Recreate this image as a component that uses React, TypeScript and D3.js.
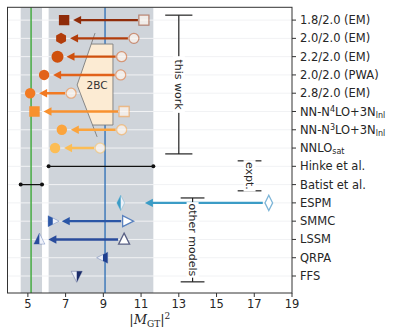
import React from 'react'
import * as d3 from 'd3'

// rows top to bottom (label markup: ^{} superscript, _{} subscript)
const rowLabels = [
  '1.8/2.0 (EM)',
  '2.0/2.0 (EM)',
  '2.2/2.0 (EM)',
  '2.0/2.0 (PWA)',
  '2.8/2.0 (EM)',
  'NN-N^{4}LO+3N_{lnl}',
  'NN-N^{3}LO+3N_{lnl}',
  'NNLO_{sat}',
  'Hinke et al.',
  'Batist et al.',
  'ESPM',
  'SMMC',
  'LSSM',
  'QRPA',
  'FFS',
]

// this work: bare (open) -> with 2BC (filled)
const workBare = [11.15, 10.62, 9.97, 9.92, 7.29, 10.1, 9.97, 8.83]
const workFull = [6.92, 6.76, 6.57, 5.86, 5.12, 5.35, 6.8, 6.44]
const workMarker = ['square', 'hexagon', 'circle', 'circle', 'circle', 'square', 'circle', 'circle']
const workColor = ['#8f2c0a', '#b23d0b', '#cf500d', '#e2621a', '#f27a22', '#f8912e', '#fba43d', '#fcbd55']

// experiments: [low, central, high]
const hinke = [6.1, 9.09, 11.65]
const batist = [4.62, 5.17, 5.75]

// other models: row, filled value, open value (or null), shape, half filled side
const modelRow = [10, 11, 12, 13, 14]
const modelFull = [9.92, 6.32, 5.61, 8.98, 7.59]
const modelOpen = [17.77, 10.27, 10.1, null, null]
const modelTip = [11.2, null, null, null, null]
const modelShape = ['diamond', 'triRight', 'triUp', 'triLeft', 'triDown']
const modelHalf = ['left', 'left', 'left', 'right', 'right']
const modelColor = ['#3b9cc6', '#2b56a6', '#2a4c9c', '#1f3f8f', '#1b2c6a']
const modelOpenColor = ['#7fb6d8', '#5a82bf', '#5a6185', null, null]

// 2BC band outline: [x, row]
const bandLine = [[8.56, 0.71], [7.61, 3.55], [8.67, 6.39]]
const bandRows = [1.31, 5.74]
const bandRight = 9.51

// brackets: label, x, row from, row to, half cap width (x units)
const brackets = [
  { label: 'this work', x: 13.0, r0: -0.27, r1: 7.32, cap: 0.72 },
  { label: 'expt.', x: 16.75, r0: 7.7, r1: 9.34, cap: 0.63 },
  { label: 'other models', x: 13.73, r0: 9.73, r1: 14.32, cap: 0.63 },
]

const xTicks = [5, 7, 9, 11, 13, 15, 17, 19]

const W = 394
const H = 333
const FONT = 'DejaVu Sans, sans-serif'

function markerPath(shape: string, s: number): string {
  switch (shape) {
    case 'square':
      return `M${-s},${-s}H${s}V${s}H${-s}Z`
    case 'hexagon': {
      const pts = d3.range(6).map(i => {
        const a = Math.PI / 6 + (i * Math.PI) / 3
        return [s * 1.1 * Math.cos(a), s * 1.1 * Math.sin(a)]
      })
      return 'M' + pts.map(p => p.join(',')).join('L') + 'Z'
    }
    case 'circle':
      return `M${s},0A${s},${s} 0 1,1 ${-s},0A${s},${s} 0 1,1 ${s},0Z`
    case 'diamond':
      return `M0,${-s * 1.4}L${s * 0.7},0L0,${s * 1.4}L${-s * 0.7},0Z`
    case 'triUp':
      return `M0,${-s * 1.15}L${s},${s * 0.85}L${-s},${s * 0.85}Z`
    case 'triDown':
      return `M0,${s * 1.15}L${s},${-s * 0.85}L${-s},${-s * 0.85}Z`
    case 'triRight':
      return `M${s * 1.15},0L${-s * 0.85},${s}L${-s * 0.85},${-s}Z`
    case 'triLeft':
      return `M${-s * 1.15},0L${s * 0.85},${s}L${s * 0.85},${-s}Z`
  }
  return ''
}

function RichLabel({ x, y, text }: { x: number; y: number; text: string }) {
  const parts = text.split(/(\^\{[^}]*\}|_\{[^}]*\})/).filter(p => p.length)
  return (
    <text x={x} y={y} dy="0.35em" fontSize={11.5} fontFamily={FONT} fill="#262626">
      {parts.map((p, i) => {
        if (p.startsWith('^{')) {
          return <tspan key={i} fontSize={8} baselineShift="45%">{p.slice(2, -1)}</tspan>
        }
        if (p.startsWith('_{')) {
          return <tspan key={i} fontSize={8} baselineShift="-25%">{p.slice(2, -1)}</tspan>
        }
        return <tspan key={i}>{p}</tspan>
      })}
    </text>
  )
}

export default function App() {
  const x = d3.scaleLinear().domain([3.92, 19]).range([7.5, 292])
  const y = d3.scaleLinear().domain([-0.7, 14.93]).range([7.3, 293])
  const [x0, x1] = x.range()
  const [y0, y1] = y.range()

  const arrow = (from: number, to: number, row: number, color: string, key: string) => {
    const yy = y(row)
    const start = from - 6
    const tip = to + 9
    return (
      <g key={key}>
        <line x1={start} x2={tip + 7} y1={yy} y2={yy} stroke={color} strokeWidth={2.4} />
        <path d={`M${tip},${yy}L${tip + 8},${yy - 4.2}L${tip + 8},${yy + 4.2}Z`} fill={color} />
      </g>
    )
  }

  // 2BC band polygon
  const interpLine = (r: number) => {
    for (let i = 0; i < bandLine.length - 1; i++) {
      const [xa, ra] = bandLine[i]
      const [xb, rb] = bandLine[i + 1]
      if (r >= ra && r <= rb) return xa + ((xb - xa) * (r - ra)) / (rb - ra)
    }
    return bandLine[0][0]
  }
  const bandPts: [number, number][] = [
    [interpLine(bandRows[0]), bandRows[0]],
    [bandRight, bandRows[0]],
    [bandRight, bandRows[1]],
    [interpLine(bandRows[1]), bandRows[1]],
    ...bandLine.filter(p => p[1] > bandRows[0] && p[1] < bandRows[1]).reverse() as [number, number][],
  ]
  const lineGen = d3.line<number[]>().x(d => x(d[0])).y(d => y(d[1]))

  return (
    <svg width={W} height={H} style={{ position: 'absolute', left: 0, top: 0, background: '#fff' }}>
      <defs>
        <clipPath id="plot">
          <rect x={x0} y={y0} width={x1 - x0} height={y1 - y0} />
        </clipPath>
        <clipPath id="halfL"><rect x={-20} y={-20} width={20} height={40} /></clipPath>
        <clipPath id="halfR"><rect x={0} y={-20} width={20} height={40} /></clipPath>
      </defs>

      <g clipPath="url(#plot)">
        {/* experimental bands */}
        {[hinke, batist].map((b, i) => (
          <rect key={i} x={x(b[0])} y={y0} width={x(b[2]) - x(b[0])} height={y1 - y0} fill="#cfd4da" />
        ))}
        {/* grid */}
        {rowLabels.map((_, i) => (
          <line key={i} x1={x0} x2={x1} y1={y(i)} y2={y(i)} stroke="#f1f2f4" strokeWidth={1} />
        ))}
        <line x1={x(batist[1])} x2={x(batist[1])} y1={y0} y2={y1} stroke="#4fae4c" strokeWidth={1.6} />
        <line x1={x(hinke[1])} x2={x(hinke[1])} y1={y0} y2={y1} stroke="#2a6db5" strokeWidth={1.3} />

        {/* 2BC band */}
        <path d={lineGen(bandPts) + 'Z'} fill="#fcebd3" />
        <path d={lineGen(bandLine)!} fill="none" stroke="#7d7d7d" strokeWidth={0.9} />
        <line x1={x(interpLine(bandRows[0]))} x2={x(bandRight)} y1={y(bandRows[0])} y2={y(bandRows[0])} stroke="#7d7d7d" strokeWidth={0.9} />
        <line x1={x(interpLine(bandRows[1]))} x2={x(bandRight)} y1={y(bandRows[1])} y2={y(bandRows[1])} stroke="#7d7d7d" strokeWidth={0.9} />
        <line x1={x(bandRight)} x2={x(bandRight)} y1={y(bandRows[0])} y2={y(bandRows[1])} stroke="#7d7d7d" strokeWidth={0.9} />
        <text x={x(bandLine[1][0]) + 20} y={y(bandLine[1][1])} dy="0.35em" textAnchor="middle" fontSize={10.5} fontFamily={FONT} fill="#333">2BC</text>

        {/* this work */}
        {workFull.map((v, i) => arrow(x(workBare[i]), x(v), i, workColor[i], 'a' + i))}
        {workBare.map((v, i) => (
          <path key={'o' + i} transform={`translate(${x(v)},${y(i)})`} d={markerPath(workMarker[i] === 'square' ? 'square' : 'circle', 5)}
            fill="#fdf6f0" fillOpacity={0.7} stroke={workColor[i]} strokeOpacity={0.5} strokeWidth={1.3} />
        ))}
        {workFull.map((v, i) => (
          <path key={'f' + i} transform={`translate(${x(v)},${y(i)})`} d={markerPath(workMarker[i], i === 2 ? 6 : 5.2)}
            fill={workColor[i]} />
        ))}

        {/* experiments */}
        {[hinke, batist].map((b, i) => (
          <g key={'e' + i}>
            <line x1={x(b[0])} x2={x(b[2])} y1={y(8 + i)} y2={y(8 + i)} stroke="#111" strokeWidth={1.3} />
            <circle cx={x(b[0])} cy={y(8 + i)} r={2} fill="#111" />
            <circle cx={x(b[2])} cy={y(8 + i)} r={2} fill="#111" />
          </g>
        ))}

        {/* other models */}
        {modelFull.map((v, i) => {
          const o = modelOpen[i]
          if (o === null) return null
          return arrow(x(o), x(modelTip[i] ?? v) + (modelTip[i] ? -9 : 0), modelRow[i], modelColor[i], 'm' + i)
        })}
        {modelOpen.map((v, i) => v === null ? null : (
          <path key={'mo' + i} transform={`translate(${x(v)},${y(modelRow[i])})`} d={markerPath(modelShape[i], 5.5)}
            fill="#fff" stroke={modelOpenColor[i]!} strokeWidth={1.3} />
        ))}
        {modelFull.map((v, i) => (
          <g key={'mf' + i} transform={`translate(${x(v)},${y(modelRow[i])})`}>
            <path d={markerPath(modelShape[i], 5.5)} fill="#eef1f8" stroke={modelColor[i]} strokeOpacity={0.4} strokeWidth={0.8} />
            <path d={markerPath(modelShape[i], 5.5)} fill={modelColor[i]} clipPath={modelHalf[i] === 'left' ? 'url(#halfL)' : 'url(#halfR)'} />
          </g>
        ))}
      </g>

      {/* brackets */}
      {brackets.map(b => {
        const bx = x(b.x)
        const ya = y(b.r0)
        const yb = y(b.r1)
        const cw = x(b.x + b.cap) - bx
        const mid = (ya + yb) / 2
        const tw = b.label.length * 6.3
        return (
          <g key={b.label}>
            <line x1={bx} x2={bx} y1={ya} y2={yb} stroke="#222" strokeWidth={1.2} />
            <line x1={bx - cw} x2={bx + cw} y1={ya} y2={ya} stroke="#222" strokeWidth={1.2} />
            <line x1={bx - cw} x2={bx + cw} y1={yb} y2={yb} stroke="#222" strokeWidth={1.2} />
            <g transform={`translate(${bx},${mid}) rotate(90)`}>
              <rect x={-tw / 2} y={-6} width={tw} height={12} fill="#fff" />
              <text textAnchor="middle" dy="0.35em" fontSize={11} fontFamily={FONT} fill="#262626">{b.label}</text>
            </g>
          </g>
        )
      })}

      {/* frame */}
      <rect x={x0} y={y0} width={x1 - x0} height={y1 - y0} fill="none" stroke="#333" strokeWidth={1} />

      {/* x axis */}
      {xTicks.map(t => (
        <g key={t} transform={`translate(${x(t)},${y1})`}>
          <line y2={4} stroke="#333" />
          <text y={15} textAnchor="middle" fontSize={11.5} fontFamily={FONT} fill="#262626">{t}</text>
        </g>
      ))}
      <text x={(x0 + x1) / 2} y={324} textAnchor="middle" fontSize={13} fontFamily="DejaVu Serif, serif" fill="#262626">
        |<tspan fontStyle="italic">M</tspan><tspan fontSize={9} dy={3}>GT</tspan><tspan dy={-3}>|</tspan><tspan fontSize={9} dy={-5}>2</tspan>
      </text>

      {/* right y labels */}
      {rowLabels.map((l, i) => (
        <g key={l}>
          <line x1={x1} x2={x1 + 4} y1={y(i)} y2={y(i)} stroke="#333" />
          <RichLabel x={x1 + 8} y={y(i)} text={l} />
        </g>
      ))}
    </svg>
  )
}
